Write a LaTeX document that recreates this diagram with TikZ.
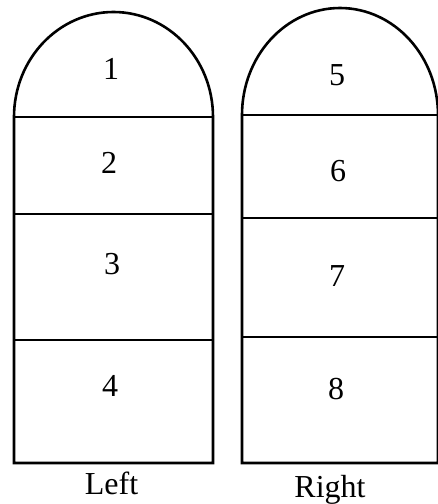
\documentclass[tikz,border=0pt]{standalone}
\usepackage{fontspec}
\setmainfont{Liberation Serif}
\begin{document}
\begin{tikzpicture}[x=1pt, y=-1pt,
    panel/.style={draw=black, line width=2.6pt, line join=miter},
    num/.style={font=\fontsize{32}{38}\selectfont, inner sep=0pt, anchor=center},
    caption/.style={font=\fontsize{32}{38}\selectfont, inner sep=0pt, anchor=base}
  ]
  \useasboundingbox (0,0) rectangle (437,504);
  % left tablet
  \draw[panel] (14,463) -- (14,117)
    arc[start angle=180, end angle=360, x radius=99.5, y radius=105]
    -- (213,463) -- cycle;
  \draw[panel] (14,117) -- (213,117);
  \draw[panel] (14,214) -- (213,214);
  \draw[panel] (14,340) -- (213,340);
  % right tablet
  \draw[panel] (242,463) -- (242,115)
    arc[start angle=180, end angle=360, x radius=98, y radius=107]
    -- (438,463) -- cycle;
  \draw[panel] (242,115) -- (438,115);
  \draw[panel] (242,218) -- (438,218);
  \draw[panel] (242,337) -- (438,337);
  % numbers
  \node[num] (n1) at (111,69)  {1};
  \node[num] (n2) at (109,163) {2};
  \node[num] (n3) at (112,264) {3};
  \node[num] (n4) at (110,386) {4};
  \node[num] (n5) at (337,75)  {5};
  \node[num] (n6) at (338,171) {6};
  \node[num] (n7) at (337,276) {7};
  \node[num] (n8) at (336,389) {8};
  % captions
  \node[caption] (left)  at (111.5,494) {Left};
  \node[caption] (right) at (330,497)   {Right};
\end{tikzpicture}
\end{document}
